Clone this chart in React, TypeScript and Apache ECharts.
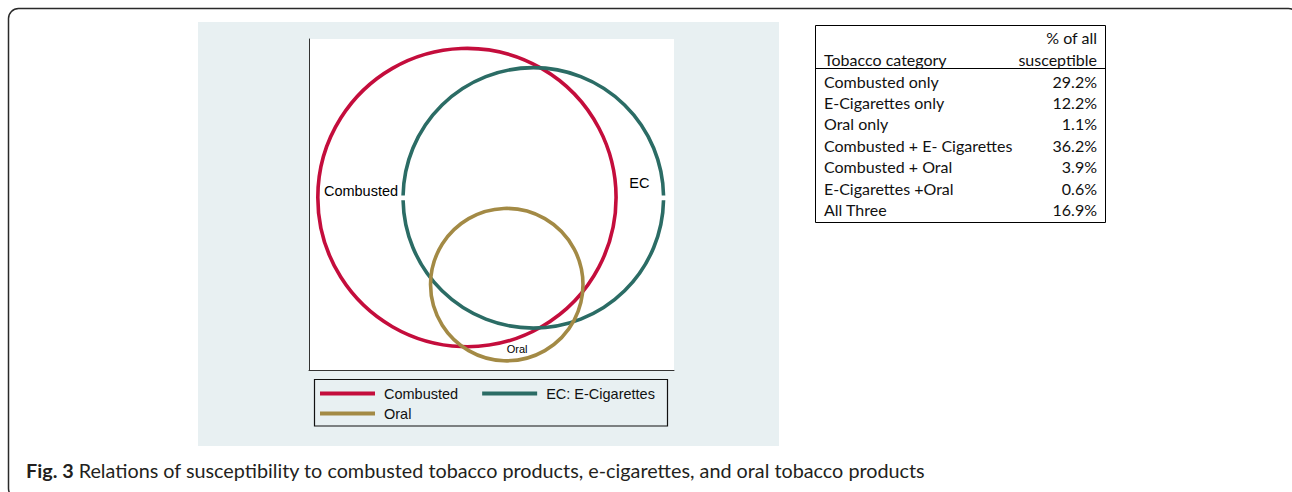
import React, { useEffect, useRef } from "react";
import * as echarts from "echarts";

// ---- Data ----
const circleNames = ["Combusted", "EC: E-Cigarettes", "Oral"];
const circleCenterX = [47.6, 67.6, 59.6];
const circleCenterY = [52.1, 52.0, 25.8];
const circleRadius = [45.0, 39.3, 23.0];
const circleColors = ["#c40d3c", "#2b6c65", "#a38a45"];

const circleLabels = ["Combusted", "EC", "Oral"];
const labelX = [4.5, 96.5, 62.7];
const labelY = [54.2, 56.4, 6.25];

const tableHeaderLeft = "Tobacco category";
const tableHeaderRight = ["% of all", "susceptible"];
const tableCategories = [
  "Combusted only",
  "E-Cigarettes only",
  "Oral only",
  "Combusted + E- Cigarettes",
  "Combusted + Oral",
  "E-Cigarettes +Oral",
  "All Three",
];
const tableShares = ["29.2%", "12.2%", "1.1%", "36.2%", "3.9%", "0.6%", "16.9%"];

const captionBold = "Fig. 3";
const captionText =
  "Relations of susceptibility to combusted tobacco products, e-cigarettes, and oral tobacco products";

const ARIAL = "'Liberation Sans', Arial, sans-serif";
const TABLE_FONT = "Lato, 'Noto Sans', sans-serif";

export default function App() {
  const ref = useRef<HTMLDivElement>(null);

  useEffect(() => {
    document.body.style.margin = "0";
    if (!ref.current) return;
    const chart = echarts.init(ref.current, undefined, { renderer: "svg" });

    const circleSeries = circleNames.map((name, i) => ({
      type: "custom",
      name,
      coordinateSystem: "cartesian2d",
      clip: false,
      z: 3 + i,
      itemStyle: { color: circleColors[i] },
      encode: { x: 0, y: 1 },
      data: [[circleCenterX[i], circleCenterY[i], circleRadius[i]]],
      renderItem: (params: any, api: any) => {
        const c = api.coord([api.value(0), api.value(1)]);
        const sz = api.size([api.value(2), api.value(2)]);
        const r = (sz[0] + sz[1]) / 2;
        const style = { fill: "none", stroke: circleColors[i], lineWidth: 3.6 };
        if (i === 1) {
          const g = 0.018;
          return {
            type: "group",
            children: [
              { type: "arc", shape: { cx: c[0], cy: c[1], r, startAngle: g, endAngle: Math.PI - g, clockwise: true }, style },
              { type: "arc", shape: { cx: c[0], cy: c[1], r, startAngle: Math.PI + g, endAngle: 2 * Math.PI - g, clockwise: true }, style },
            ],
          };
        }
        return { type: "circle", shape: { cx: c[0], cy: c[1], r }, style };
      },
    }));

    const labelAlign = ["left", "left", "center"];
    const labelSize = [14.5, 14.5, 11];
    const labelSeries = {
      type: "custom",
      name: "labels",
      coordinateSystem: "cartesian2d",
      clip: false,
      z: 10,
      itemStyle: { color: "#000" },
      encode: { x: 0, y: 1 },
      data: circleLabels.map((t, i) => [labelX[i], labelY[i], i]),
      renderItem: (params: any, api: any) => {
        const idx = api.value(2);
        const c = api.coord([api.value(0), api.value(1)]);
        return {
          type: "text",
          x: c[0],
          y: c[1],
          style: {
            text: circleLabels[idx],
            fill: "#000",
            fontSize: labelSize[idx],
            fontFamily: ARIAL,
            align: labelAlign[idx],
            verticalAlign: "middle",
          },
        };
      },
    };

    const rowY0 = 81;
    const rowStep = 21.4;
    const tableX0 = 815.5;
    const tableX1 = 1105.5;
    const tableTop = 25.5;
    const tableBottom = 222.5;
    const headerSep = 68.5;
    const lineStyle = { stroke: "#000", lineWidth: 1 };
    const tfs = 16;

    const tableGraphics: any[] = [
      { type: "line", shape: { x1: tableX0, y1: tableTop, x2: tableX1, y2: tableTop }, style: lineStyle },
      { type: "line", shape: { x1: tableX0, y1: tableBottom, x2: tableX1, y2: tableBottom }, style: lineStyle },
      { type: "line", shape: { x1: tableX0, y1: tableTop, x2: tableX0, y2: tableBottom }, style: lineStyle },
      { type: "line", shape: { x1: tableX1, y1: tableTop, x2: tableX1, y2: tableBottom }, style: lineStyle },
      { type: "line", shape: { x1: tableX0, y1: headerSep, x2: tableX1, y2: headerSep }, style: lineStyle },
      {
        type: "text", x: 824, y: 59,
        style: { text: tableHeaderLeft, fill: "#111", fontSize: tfs, fontFamily: TABLE_FONT, verticalAlign: "middle", align: "left" },
      },
      ...tableHeaderRight.map((t, i) => ({
        type: "text", x: 1097, y: 37 + i * 22,
        style: { text: t, fill: "#111", fontSize: tfs, fontFamily: TABLE_FONT, verticalAlign: "middle", align: "right" },
      })),
      ...tableCategories.map((t, i) => ({
        type: "text", x: 824, y: rowY0 + i * rowStep,
        style: { text: t, fill: "#111", fontSize: tfs, fontFamily: TABLE_FONT, verticalAlign: "middle", align: "left" },
      })),
      ...tableShares.map((t, i) => ({
        type: "text", x: 1097, y: rowY0 + i * rowStep,
        style: { text: t, fill: "#111", fontSize: tfs, fontFamily: TABLE_FONT, verticalAlign: "middle", align: "right" },
      })),
    ];

    const legendText = { fontSize: 14.5, color: "#111", fontFamily: ARIAL, padding: [0, 0, 0, 4] };

    const option: any = {
      animation: false,
      textStyle: { fontFamily: ARIAL },
      grid: { left: 309, top: 39, width: 365, height: 331, show: false },
      xAxis: {
        type: "value", min: 0, max: 110,
        axisLine: { show: true, lineStyle: { color: "#333", width: 1 } },
        axisTick: { show: false }, axisLabel: { show: false }, splitLine: { show: false },
      },
      yAxis: {
        type: "value", min: 0, max: 100,
        axisLine: { show: true, lineStyle: { color: "#333", width: 1 } },
        axisTick: { show: false }, axisLabel: { show: false }, splitLine: { show: false },
      },
      legend: [
        {
          data: [circleNames[0], circleNames[1]],
          left: 320, top: 386, padding: 0, itemGap: 24,
          itemWidth: 55, itemHeight: 4, icon: "rect", selectedMode: false,
          textStyle: legendText,
        },
        {
          data: [circleNames[2]],
          left: 320, top: 406, padding: 0,
          itemWidth: 55, itemHeight: 4, icon: "rect", selectedMode: false,
          textStyle: legendText,
        },
      ],
      graphic: [
        {
          type: "rect", z: -10, silent: true,
          shape: { x: 8.5, y: 8.5, width: 1290, height: 490, r: 10 },
          style: { fill: "#fff", stroke: "#2a2a2a", lineWidth: 1.5 },
        },
        { type: "rect", z: -5, silent: true, shape: { x: 198, y: 22, width: 581, height: 424 }, style: { fill: "#e8f0f2" } },
        { type: "rect", z: -4, silent: true, shape: { x: 309, y: 39, width: 365, height: 331 }, style: { fill: "#ffffff" } },
        {
          type: "rect", silent: true,
          shape: { x: 314.5, y: 379.5, width: 353, height: 46.5 },
          style: { fill: "none", stroke: "#111", lineWidth: 1.2 },
        },
        ...tableGraphics,
        {
          type: "text", x: 26, y: 470,
          style: {
            text: `{b|${captionBold}} ${captionText}`,
            fill: "#231f20", fontSize: 19.8, fontFamily: "Lato, sans-serif", verticalAlign: "middle",
            rich: { b: { fontWeight: "bold", fontSize: 19.8, fontFamily: "Lato, sans-serif", fill: "#231f20" } },
          },
        },
      ],
      series: [...circleSeries, labelSeries],
    };

    chart.setOption(option);
    return () => chart.dispose();
  }, []);

  return <div ref={ref} style={{ width: 1292, height: 492 }} />;
}
